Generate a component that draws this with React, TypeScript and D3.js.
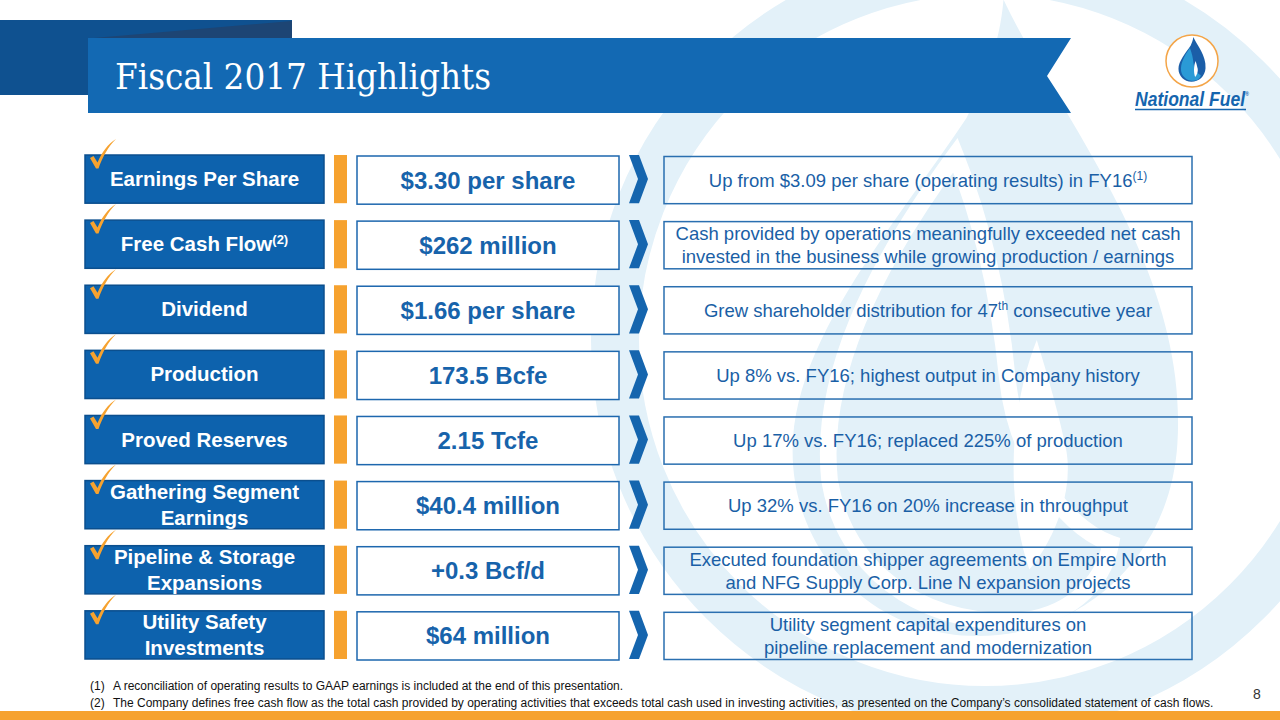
import React from "react";
import * as d3 from "d3";

const W = 1280;
const H = 720;

const title = "Fiscal 2017 Highlights";

const labels: string[][] = [
  ["Earnings Per Share"],
  ["Free Cash Flow^{(2)}"],
  ["Dividend"],
  ["Production"],
  ["Proved Reserves"],
  ["Gathering Segment", "Earnings"],
  ["Pipeline & Storage", "Expansions"],
  ["Utility Safety", "Investments"],
];

const values: string[] = [
  "$3.30 per share",
  "$262 million",
  "$1.66 per share",
  "173.5 Bcfe",
  "2.15 Tcfe",
  "$40.4 million",
  "+0.3 Bcf/d",
  "$64 million",
];

const descriptions: string[][] = [
  ["Up from $3.09 per share (operating results) in FY16^{(1)}"],
  ["Cash provided by operations meaningfully exceeded net cash", "invested in the business while growing production / earnings"],
  ["Grew shareholder distribution for 47^{th} consecutive year"],
  ["Up 8% vs. FY16; highest output in Company history"],
  ["Up 17% vs. FY16; replaced 225% of production"],
  ["Up 32% vs. FY16 on 20% increase in throughput"],
  ["Executed foundation shipper agreements on Empire North", "and NFG Supply Corp. Line N expansion projects"],
  ["Utility segment capital expenditures on", "pipeline replacement and modernization"],
];

const footnotes: string[] = [
  "A reconciliation of operating results to GAAP earnings is included at the end of this presentation.",
  "The Company defines free cash flow as the total cash provided by operating activities that exceeds total cash used in investing activities, as presented on the Company\u2019s consolidated statement of cash flows.",
];

const pageNumber = "8";

const BLUE_BOX = "#0d62ad";
const BLUE_DARK = "#0b4f8e";
const BLUE_TEXT = "#1763ab";
const ORANGE = "#f6a22f";
const WM = "#e3f1f9";
const SANS = "'Liberation Sans', Arial, sans-serif";

// unit logo shapes (circle center 0,0 radius 1)
const FLAME_OUTER =
  "M 0.05 -0.92 C 0.2 -0.6, 0.55 -0.2, 0.52 0.28 C 0.5 0.6, 0.25 0.8, -0.02 0.8 C -0.3 0.8, -0.52 0.58, -0.52 0.3 C -0.52 0.0, -0.25 -0.3, -0.05 -0.6 C 0.0 -0.7, 0.04 -0.8, 0.05 -0.92 Z";
const FLAME_LOBE =
  "M -0.08 -0.5 C -0.3 -0.2, -0.45 0.1, -0.42 0.38 C -0.38 0.62, -0.18 0.76, 0.06 0.76 C 0.22 0.76, 0.32 0.66, 0.34 0.55 C 0.2 0.5, 0.08 0.3, 0.06 0.1 C 0.04 -0.1, 0.0 -0.3, -0.08 -0.5 Z";
const FLAME_WHITE =
  "M 0.14 0.0 C 0.06 0.2, 0.06 0.45, 0.12 0.62 C 0.18 0.55, 0.24 0.42, 0.22 0.3 C 0.2 0.2, 0.17 0.1, 0.14 0.0 Z";

function renderRich(s: string, supSize: number) {
  const parts = s.split(/\^\{(.*?)\}/);
  return parts.map((p, i) =>
    i % 2 === 1 ? (
      <tspan key={i} fontSize={supSize} dy={-7}>
        {p}
      </tspan>
    ) : i > 0 ? (
      <tspan key={i} dy={7}>
        {p}
      </tspan>
    ) : (
      <tspan key={i}>{p}</tspan>
    )
  );
}

function Check({ x, y }: { x: number; y: number }) {
  const p = d3.path();
  p.moveTo(x + 5, y + 3);
  p.lineTo(x + 8.5, y + 1);
  p.lineTo(x + 12.5, y + 7.5);
  p.bezierCurveTo(x + 17, y - 3, x + 23, y - 11, x + 31, y - 16);
  p.bezierCurveTo(x + 23, y - 8, x + 17.5, y + 2, x + 13.5, y + 13.5);
  p.lineTo(x + 11, y + 13.5);
  p.closePath();
  return <path d={p.toString()} fill={ORANGE} />;
}

export default function App() {
  const rows = d3.range(labels.length);
  const y = d3.scaleBand<number>().domain(rows).range([155, 659]).paddingInner(0.26).paddingOuter(0);
  const bw = y.bandwidth();

  const labelX = d3.scaleLinear().domain([0, 1]).range([85, 324]);
  const valueX = d3.scaleLinear().domain([0, 1]).range([357, 619]);
  const descX = d3.scaleLinear().domain([0, 1]).range([664, 1192]);

  const wmR = 370;
  const wmCx = 985;
  const wmCy = 340;

  return (
    <div style={{ position: "absolute", left: 0, top: 0, width: W, height: H }}>
      <svg width={W} height={H} viewBox={`0 0 ${W} ${H}`} style={{ display: "block" }}>
        <rect width={W} height={H} fill="#ffffff" />

        {/* watermark */}
        <g>
          <circle cx={wmCx} cy={wmCy} r={wmR} fill="none" stroke={WM} strokeWidth={48} />
          <g transform={`translate(${wmCx},${wmCy}) scale(${wmR})`}>
            <path d={FLAME_OUTER} fill={WM} />
            <path d={FLAME_LOBE} fill={WM} stroke="#ffffff" strokeWidth={0.045} />
            <path d={FLAME_WHITE} fill="#ffffff" />
          </g>
        </g>

        {/* header */}
        <rect x={0} y={20} width={292} height={75} fill="#0f5190" />
        <polygon points="94,38 292,21 292,38" fill="#1d4574" />
        <polygon points="88,38 1071,38 1047,76 1071,113 88,113" fill="#1369b3" />
        <text
          x={115}
          y={89}
          fill="#ffffff"
          fontFamily="'DejaVu Serif Condensed', 'DejaVu Serif', serif"
          fontSize={35}
          textLength={376}
          lengthAdjust="spacingAndGlyphs"
        >
          {title}
        </text>

        {/* logo */}
        <g>
          <circle cx={1192} cy={61} r={26} fill="#ffffff" stroke="#f4a548" strokeWidth={1.5} />
          <g transform="translate(1192,61) scale(26)">
            <path d={FLAME_OUTER} fill="#1b5ea8" />
            <path d={FLAME_LOBE} fill="#2a9ad6" />
            <path d={FLAME_WHITE} fill="#ffffff" />
          </g>
          <text
            x={1135}
            y={106}
            fill="#1565ae"
            fontFamily={SANS}
            fontWeight="bold"
            fontStyle="italic"
            fontSize={20}
            textLength={114}
            lengthAdjust="spacingAndGlyphs"
          >
            National Fuel
            <tspan fontSize={6} dy={-10}>
              ®
            </tspan>
          </text>
          <line x1={1135} x2={1246} y1={109.5} y2={109.5} stroke="#1565ae" strokeWidth={1.5} />
        </g>

        {/* rows */}
        {rows.map((i) => {
          const top = y(i)!;
          const cy = top + bw / 2;
          const lab = labels[i];
          const desc = descriptions[i];
          return (
            <g key={i}>
              <rect
                x={labelX(0)}
                y={top}
                width={labelX(1) - labelX(0)}
                height={bw}
                fill={BLUE_BOX}
                stroke={BLUE_DARK}
                strokeWidth={1.5}
              />
              {lab.map((line, k) => (
                <text
                  key={k}
                  x={(labelX(0) + labelX(1)) / 2}
                  y={cy + 7 + (lab.length === 1 ? 0 : (k - 0.5) * 26)}
                  fill="#ffffff"
                  fontFamily={SANS}
                  fontWeight="bold"
                  fontSize={20.5}
                  textAnchor="middle"
                >
                  {renderRich(line, 13)}
                </text>
              ))}
              <Check x={labelX(0)} y={top} />
              <rect x={334} y={top} width={13} height={bw} fill={ORANGE} />
              <rect
                x={valueX(0)}
                y={top + 1}
                width={valueX(1) - valueX(0)}
                height={bw}
                fill="#ffffff"
                stroke="#1d67ae"
                strokeWidth={1.5}
              />
              <text
                x={(valueX(0) + valueX(1)) / 2}
                y={cy + 9.5}
                fill={BLUE_TEXT}
                fontFamily={SANS}
                fontWeight="bold"
                fontSize={24}
                textAnchor="middle"
              >
                {values[i]}
              </text>
              <path
                d={`M 629 ${top} L 639 ${top} L 648 ${cy} L 639 ${top + bw} L 629 ${top + bw} L 638 ${cy} Z`}
                fill="#1565ae"
              />
              <rect
                x={descX(0)}
                y={top + 1.5}
                width={descX(1) - descX(0)}
                height={bw - 1}
                fill="none"
                stroke="#2a6fb0"
                strokeWidth={1.5}
              />
              {desc.map((line, k) => (
                <text
                  key={k}
                  x={(descX(0) + descX(1)) / 2}
                  y={cy + 7.5 + (desc.length === 1 ? 0 : (k - 0.5) * 23)}
                  fill="#1a5fa6"
                  fontFamily={SANS}
                  fontSize={18.5}
                  textAnchor="middle"
                >
                  {renderRich(line, 12)}
                </text>
              ))}
            </g>
          );
        })}

        {/* footnotes */}
        {footnotes.map((f, i) => (
          <g key={i} fontFamily={SANS} fontSize={12} fill="#111111">
            <text x={90} y={690 + i * 17}>{`(${i + 1})`}</text>
            <text x={113} y={690 + i * 17}>{f}</text>
          </g>
        ))}
        <text x={1257} y={699} fontFamily={SANS} fontSize={14} fill="#333333" textAnchor="middle">
          {pageNumber}
        </text>

        <rect x={0} y={711} width={W} height={9} fill={ORANGE} />
      </svg>
    </div>
  );
}
